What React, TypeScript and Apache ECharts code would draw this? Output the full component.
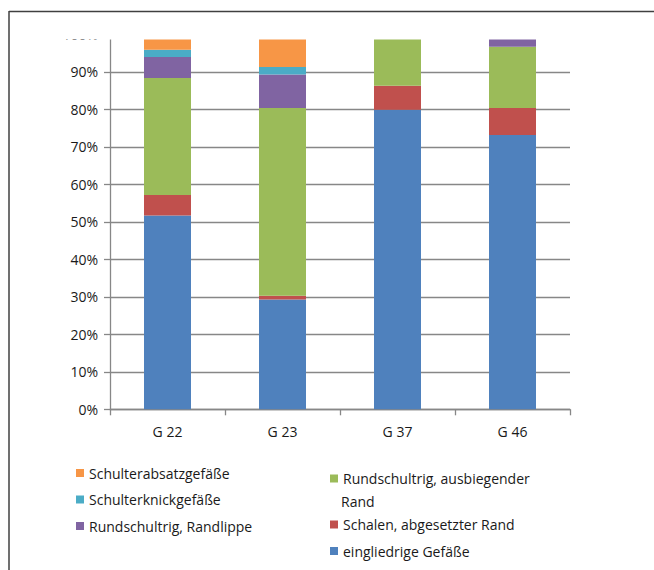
import React, { useEffect, useRef } from "react";
import * as echarts from "echarts";

const categories = ["G 22", "G 23", "G 37", "G 46"];
const eingliedrige = [51.7, 29.3, 79.9, 73.2];
const schalen = [5.5, 1.0, 6.4, 7.2];
const ausbiegend = [31.2, 50.1, 13.7, 16.3];
const randlippe = [5.6, 8.9, 0, 3.3];
const schulterknick = [1.9, 2.0, 0, 0];
const schulterabsatz = [4.1, 8.7, 0, 0];

const names = {
  ein: "eingliedrige Gefäße",
  sch: "Schalen, abgesetzter Rand",
  aus: "Rundschultrig, ausbiegender Rand",
  rand: "Rundschultrig, Randlippe",
  knick: "Schulterknickgefäße",
  absatz: "Schulterabsatzgefäße",
};

const FONT = "Open Sans";

export default function App() {
  const ref = useRef<HTMLDivElement>(null);
  useEffect(() => {
    if (!ref.current) return;
    const chart = echarts.init(ref.current, undefined, { renderer: "svg" });
    const mk = (name: string, data: number[], color: string) => ({
      name,
      type: "bar",
      stack: "total",
      data,
      barWidth: 47,
      itemStyle: { color },
      emphasis: { disabled: true },
    });
    const legendText = { fontFamily: FONT, fontSize: 14, color: "#1a1a1a" };
    chart.setOption({
      animation: false,
      textStyle: { fontFamily: FONT },
      grid: { left: 110, top: 34.5, width: 460, height: 374.8 },
      xAxis: {
        type: "category",
        data: categories,
        axisLine: { lineStyle: { color: "#878787", width: 1.3 } },
        axisTick: { show: true, alignWithLabel: false, length: 6, lineStyle: { color: "#878787", width: 1.3 } },
        axisLabel: { color: "#1a1a1a", fontSize: 14, margin: 15, fontFamily: FONT },
      },
      yAxis: {
        type: "value",
        min: 0,
        max: 100,
        interval: 10,
        axisLine: { show: true, lineStyle: { color: "#878787", width: 1.3 } },
        axisTick: { show: true, length: 6, lineStyle: { color: "#878787", width: 1.3 } },
        axisLabel: { formatter: "{value}%", color: "#1a1a1a", fontSize: 14, margin: 12, fontFamily: FONT },
        splitLine: { lineStyle: { color: "#878787", width: 1.3 } },
      },
      legend: [
        {
          orient: "vertical",
          left: 71,
          top: 461,
          itemWidth: 8,
          itemHeight: 8,
          itemGap: 12.5,
          icon: "rect",
          textStyle: legendText,
          selectedMode: false,
          data: [names.absatz, names.knick, names.rand],
        },
        {
          orient: "vertical",
          left: 325,
          top: 466.5,
          itemWidth: 8,
          itemHeight: 8,
          icon: "rect",
          textStyle: legendText,
          selectedMode: false,
          formatter: () => "Rundschultrig, ausbiegender",
          data: [names.aus],
        },
        {
          orient: "vertical",
          left: 325,
          top: 512.5,
          itemWidth: 8,
          itemHeight: 8,
          itemGap: 12.5,
          icon: "rect",
          textStyle: legendText,
          selectedMode: false,
          data: [names.sch, names.ein],
        },
      ],
      graphic: [
        {
          type: "rect",
          z: 100,
          shape: { x: 10, y: 12.5, width: 660, height: 27 },
          style: { fill: "#ffffff" },
        },
        {
          type: "line",
          z: 101,
          shape: { x1: 9, y1: 11.5, x2: 660, y2: 11.5 },
          style: { stroke: "#404040", lineWidth: 1.5 },
        },
        {
          type: "line",
          z: 101,
          shape: { x1: 9, y1: 11, x2: 9, y2: 580 },
          style: { stroke: "#404040", lineWidth: 1.5 },
        },
        {
          type: "text",
          z: 101,
          x: 341,
          y: 501,
          style: { text: "Rand", fontFamily: FONT, fontSize: 14, fill: "#1a1a1a", verticalAlign: "middle" },
        },
      ],
      series: [
        mk(names.ein, eingliedrige, "#4F81BD"),
        mk(names.sch, schalen, "#C0504D"),
        mk(names.aus, ausbiegend, "#9BBB59"),
        mk(names.rand, randlippe, "#8064A2"),
        mk(names.knick, schulterknick, "#4BACC6"),
        mk(names.absatz, schulterabsatz, "#F79646"),
      ],
    });
    return () => chart.dispose();
  }, []);
  return <div ref={ref} style={{ width: 654, height: 570, position: "absolute", left: 0, top: 0 }} />;
}
